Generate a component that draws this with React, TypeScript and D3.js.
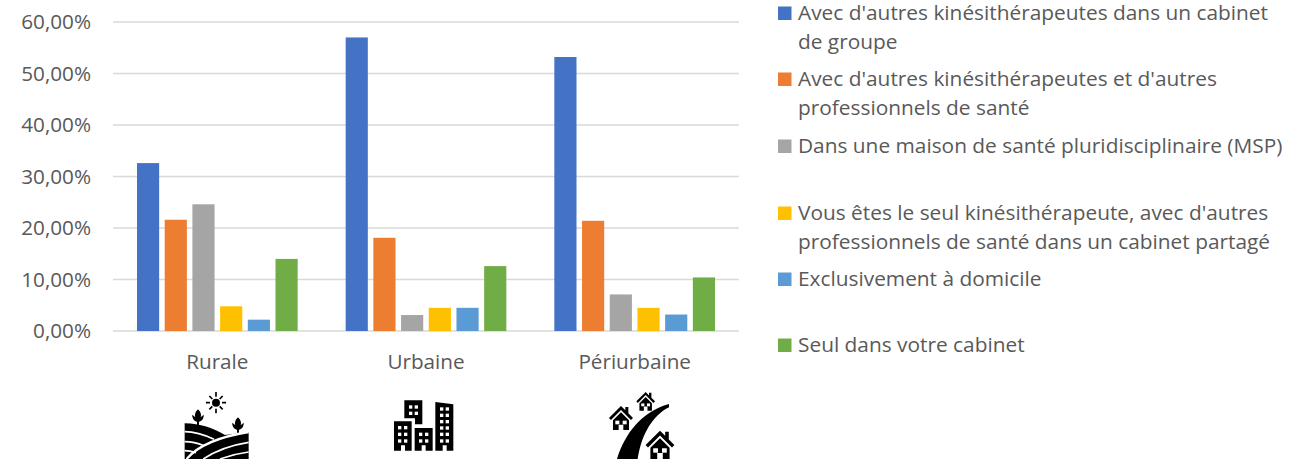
import React, { useEffect, useRef } from "react";
import { select, scaleBand, scaleLinear, axisLeft, axisBottom, range } from "d3";

const categories = ["Rurale", "Urbaine", "Périurbaine"];
const seriesNames = [
  "Avec d'autres kinésithérapeutes dans un cabinet de groupe",
  "Avec d'autres kinésithérapeutes et d'autres professionnels de santé",
  "Dans une maison de santé pluridisciplinaire (MSP)",
  "Vous êtes le seul kinésithérapeute, avec d'autres professionnels de santé dans un cabinet partagé",
  "Exclusivement à domicile",
  "Seul dans votre cabinet",
];
const legendLines = [
  ["Avec d'autres kinésithérapeutes dans un cabinet", "de groupe"],
  ["Avec d'autres kinésithérapeutes et d'autres", "professionnels de santé"],
  ["Dans une maison de santé pluridisciplinaire (MSP)"],
  ["Vous êtes le seul kinésithérapeute, avec d'autres", "professionnels de santé dans un cabinet partagé"],
  ["Exclusivement à domicile"],
  ["Seul dans votre cabinet"],
];
const legendRows = [13, 79, 146, 213, 279, 345];
const colors = ["#4472c4", "#ed7d31", "#a5a5a5", "#ffc000", "#5b9bd5", "#70ad47"];
const rurale = [32.6, 21.6, 24.6, 4.8, 2.2, 14.0];
const urbaine = [57.0, 18.1, 3.1, 4.5, 4.5, 12.6];
const periurbaine = [53.2, 21.4, 7.1, 4.5, 3.2, 10.4];
const values = [rurale, urbaine, periurbaine];
const yTicks = [0, 10, 20, 30, 40, 50, 60];

const FONT = "'Open Sans', sans-serif";
const TEXT_SIZE = 20.7;
const LEGEND_SIZE = 20.85;

function House({ x, y, s = 1 }: { x: number; y: number; s?: number }) {
  // drawn around the roof top, in zoomed-crop units
  return (
    <g transform={`translate(${x},${y}) scale(${s})`}>
      <path d="M0,0 L-36,36 L-30,42 L0,12 L30,42 L36,36 L22,22 L22,3 L13,3 L13,13 Z" fill="#000" />
      <path d="M0,19 L-24,43 L-24,72 L-7,72 L-7,56 L7,56 L7,72 L24,72 L24,43 Z" fill="#000" />
      <rect x={-17} y={44} width={12} height={11} fill="#fff" />
      <rect x={5} y={44} width={12} height={11} fill="#fff" />
    </g>
  );
}

function Windows({ xs, ys }: { xs: number[]; ys: number[] }) {
  return (
    <g fill="#fff">
      {ys.map((y) =>
        xs.map((x) => <rect key={`${x}-${y}`} x={x} y={y} width={10} height={10} />)
      )}
    </g>
  );
}

function RuralIcon() {
  return (
    <g transform="translate(170,380) scale(0.3333)">
      <circle cx={138} cy={68} r={12} fill="#000" />
      <g stroke="#000" strokeWidth={5}>
        <path d="M138,36 V50 M138,86 V100 M108,68 H120 M156,68 H168 M118,48 L127,57 M149,79 L158,88 M158,48 L149,57 M127,79 L118,88" />
      </g>
      <path d="M84,88 C74,98 74,106 76,112 L67,104 C66,116 74,124 81,125 V138 H87 V125 C94,124 102,116 101,104 L92,112 C94,106 94,98 84,88 Z" fill="#000" />
      <path d="M204,112 C194,122 194,130 196,136 L187,128 C186,140 194,148 201,149 V162 H207 V149 C214,148 222,140 221,128 L212,136 C214,130 214,122 204,112 Z" fill="#000" />
      <path d="M44,130 C90,130 130,145 165,165 L236,156 V237 H44 Z" fill="#000" />
      <g fill="none" stroke="#fff" strokeWidth={5}>
        <path d="M44,155 C75,155 105,165 132,178" />
        <path d="M44,185 C65,185 85,190 102,197" />
        <path d="M44,212 C55,212 65,214 78,218" />
        <path d="M50,237 C85,195 150,170 236,156" strokeWidth={7} />
        <path d="M100,237 C140,210 185,195 236,187" />
        <path d="M150,237 C175,228 205,220 236,216" />
      </g>
    </g>
  );
}

function UrbanIcon() {
  return (
    <g transform="translate(380,380) scale(0.3333)">
      <path d="M73,61 H127 V133 H105 V115 H73 Z" fill="#000" />
      <Windows xs={[87, 104]} ys={[76, 95]} />
      <path d="M42,124 H95 V212 H75 V196 H63 V212 H42 Z" fill="#000" />
      <Windows xs={[54, 72]} ys={[138, 158, 178]} />
      <path d="M104,144 H158 V212 H137 V196 H125 V212 H104 Z" fill="#000" />
      <Windows xs={[117, 135]} ys={[158, 178]} />
      <path d="M166,66 L220,73 V212 H200 V196 H188 V212 H166 Z" fill="#000" />
      <Windows xs={[180, 197]} ys={[82, 101, 120, 139, 158, 178]} />
    </g>
  );
}

function PeriurbanIcon() {
  return (
    <g transform="translate(595,380) scale(0.3333)">
      <path d="M66,237 C90,160 140,95 222,72 L222,82 C175,105 140,160 128,237 Z" fill="#000" />
      <House x={152} y={36} s={0.78} />
      <House x={78} y={78} />
      <House x={195} y={152} s={1.2} />
    </g>
  );
}

export default function App() {
  const svgRef = useRef<SVGSVGElement>(null);

  useEffect(() => {
    const svg = select(svgRef.current);
    const y = scaleLinear().domain([0, 60]).range([331, 22]);
    const x = scaleBand().domain(categories).range([113, 739]);
    const inner = scaleBand()
      .domain(range(seriesNames.length).map(String))
      .range([24, x.bandwidth() - 24])
      .paddingInner(0.2)
      .paddingOuter(0);

    // grid + y axis
    const gy = svg.select<SVGGElement>(".y-axis");
    gy.attr("transform", "translate(113,0)").call(
      axisLeft(y)
        .tickValues(yTicks)
        .tickSize(0)
        .tickPadding(22)
        .tickFormat((d) => `${(+d).toFixed(2).replace(".", ",")}%`)
    );
    gy.select(".domain").remove();
    gy.selectAll("text")
      .attr("font-family", FONT)
      .attr("font-size", TEXT_SIZE)
      .attr("fill", "#595959");

    svg
      .select(".grid")
      .selectAll("line")
      .data(yTicks)
      .join("line")
      .attr("x1", 113)
      .attr("x2", 739)
      .attr("y1", (d) => y(d))
      .attr("y2", (d) => y(d))
      .attr("stroke", "#d9d9d9")
      .attr("stroke-width", 1.3);

    // bars
    svg
      .select(".bars")
      .selectAll("g")
      .data(values)
      .join("g")
      .attr("transform", (_, i) => `translate(${x(categories[i])},0)`)
      .selectAll("rect")
      .data((d) => d)
      .join("rect")
      .attr("x", (_, i) => inner(String(i)) as number)
      .attr("width", inner.bandwidth())
      .attr("y", (d) => y(d))
      .attr("height", (d) => y(0) - y(d))
      .attr("fill", (_, i) => colors[i]);

    // x axis
    const gx = svg.select<SVGGElement>(".x-axis");
    gx.attr("transform", "translate(0,331)").call(axisBottom(x).tickSize(0).tickPadding(23));
    gx.select(".domain").remove();
    gx.selectAll("text")
      .attr("font-family", FONT)
      .attr("font-size", TEXT_SIZE)
      .attr("fill", "#595959");

    // legend
    const rows = svg
      .select(".legend")
      .selectAll("g")
      .data(legendLines)
      .join("g")
      .attr("transform", (_, i) => `translate(778,${legendRows[i]})`);
    rows
      .selectAll("rect")
      .data((_, i) => [colors[i]])
      .join("rect")
      .attr("y", -6.5)
      .attr("width", 13.5)
      .attr("height", 13.5)
      .attr("fill", (d) => d);
    rows
      .selectAll("text")
      .data((d) => d)
      .join("text")
      .attr("x", 20)
      .attr("y", (_, i) => i * 29 + 7)
      .attr("font-family", FONT)
      .attr("font-size", LEGEND_SIZE)
      .attr("fill", "#595959")
      .text((d) => d);
  }, []);

  return (
    <svg
      ref={svgRef}
      width={1309}
      height={459}
      style={{ position: "fixed", left: 0, top: 0, background: "#fff" }}
    >
      <g className="grid" />
      <g className="bars" />
      <g className="y-axis" />
      <g className="x-axis" />
      <g className="legend" />
      <RuralIcon />
      <UrbanIcon />
      <PeriurbanIcon />
    </svg>
  );
}
